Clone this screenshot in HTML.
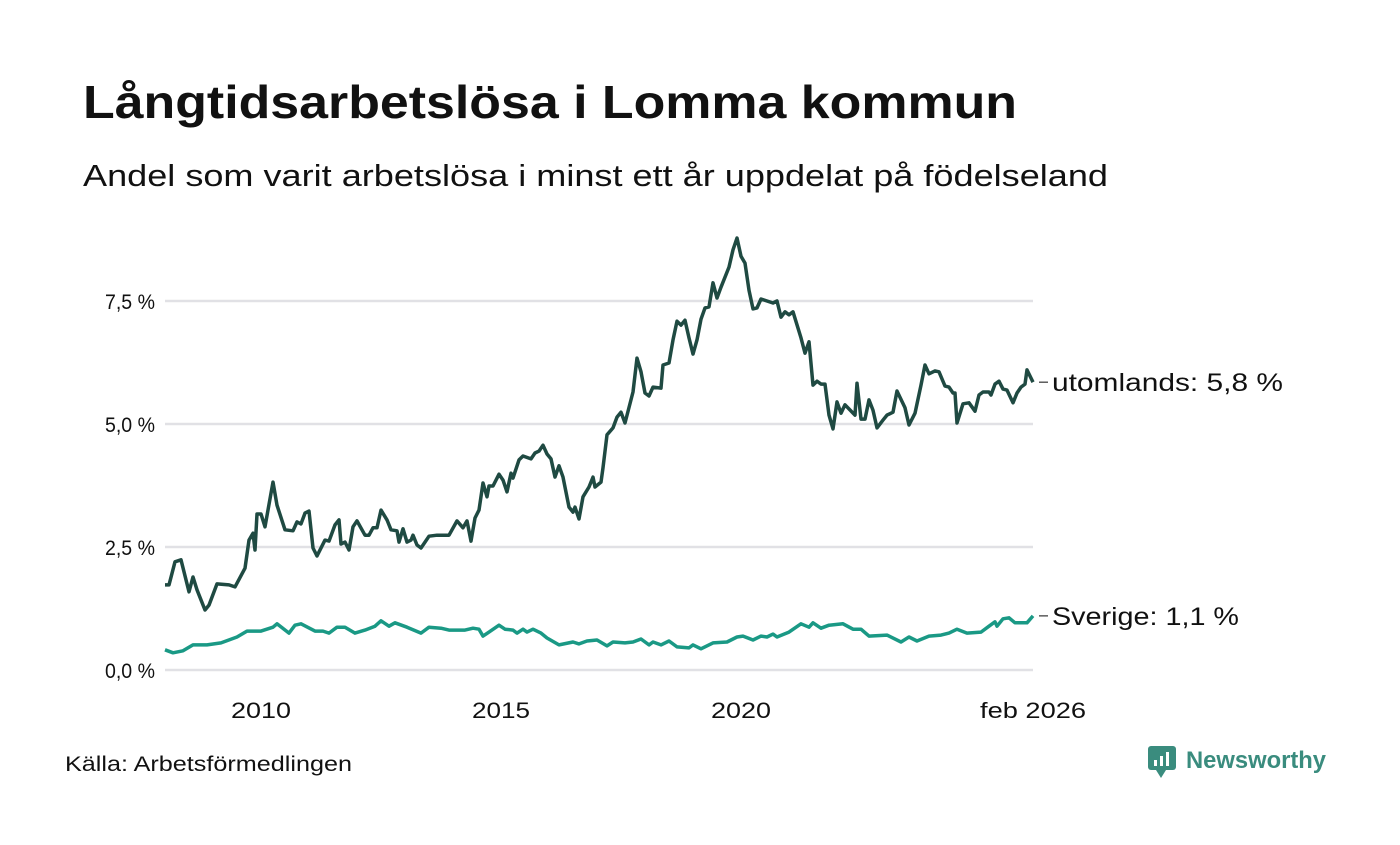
<!DOCTYPE html>
<html><head><meta charset="utf-8"><style>
body{margin:0;background:#fff;}
svg text{font-family:"Liberation Sans",sans-serif;fill:#111;}
</style></head><body>
<svg width="1400" height="840" viewBox="0 0 1400 840">
<text x="83" y="118" font-size="46" font-weight="bold" textLength="934" lengthAdjust="spacingAndGlyphs">Långtidsarbetslösa i Lomma kommun</text>
<text x="83" y="186" font-size="31" textLength="1025" lengthAdjust="spacingAndGlyphs">Andel som varit arbetslösa i minst ett år uppdelat på födelseland</text>
<g id="grid"></g>
<g id="yaxis"></g>
<g id="xaxis"></g>
<g id="series"></g>
<text x="65" y="771" font-size="21" textLength="287" lengthAdjust="spacingAndGlyphs">Källa: Arbetsförmedlingen</text>
<g>
<rect x="1148" y="746" width="28" height="24" rx="3" fill="#3a8c7e"/>
<polygon points="1156,770 1166,770 1161,778" fill="#3a8c7e"/>
<rect x="1154" y="760" width="3" height="6" fill="#fff"/><rect x="1160" y="756" width="3" height="10" fill="#fff"/><rect x="1166" y="752" width="3" height="14" fill="#fff"/>
<text x="1186" y="768" font-size="24" font-weight="bold" textLength="140" lengthAdjust="spacingAndGlyphs" style="fill:#3a8c7e">Newsworthy</text>
</g>
</svg>
<script>
const yTicks=[0,2.5,5,7.5];
const yTickLabels=["0,0 %","2,5 %","5,0 %","7,5 %"];
const xTicks=[24,84,144,217];
const xTickLabels=["2010","2015","2020","feb 2026"];
const xTickWidths=[60,58,60,106];
const foreignMonths=[0,1,2.5,4,6,7,8,10,11,13,16,17.5,20,21,22,22.5,23,24,25,27,28,30,32,33,34,35,36,37,38,40,41,42.5,43.5,44,45,46,47,48,50,51,52,53,54,55.5,56.5,58,58.5,59.5,60.5,61.5,62,63,64,65,66,68,71,73,74.5,75.5,76.5,77.5,78.5,79.5,80.5,81,82,83.5,84.5,85.5,86.5,87,88.5,89.5,91.5,92.5,93.5,94.5,95.5,96.5,97.5,98.5,99.5,101,102,102.5,103.5,104.5,106,107,107.5,109,109.5,110.5,112,113,114,115,117,118,119,120,121,122,124,124.5,126,127,128,129,130,131,132,133,134,135,136,137,138,139,141,142,143,144,145,146,147,148,149,150.5,152,153,154,155,156,157,159,160,161,162,163,164,165,166,167,168,169,170,172.5,173,174,175,176,177,178,179.5,180.5,182,183,185,186,187.5,189,190,191,192.5,193.5,195,196,197,197.5,198,199.5,201,202.5,203.5,204.5,206,206.5,207.5,208.5,209.5,210.5,212,213,214,215,215.5,217];
const foreignValues=[1.73,1.73,2.20,2.24,1.59,1.89,1.63,1.22,1.32,1.75,1.73,1.69,2.07,2.64,2.78,2.44,3.17,3.17,2.91,3.82,3.35,2.85,2.83,3.01,2.97,3.19,3.23,2.48,2.32,2.64,2.62,2.95,3.05,2.56,2.60,2.44,2.91,3.03,2.74,2.74,2.89,2.89,3.25,3.05,2.85,2.83,2.60,2.87,2.60,2.64,2.74,2.54,2.48,2.60,2.72,2.74,2.74,3.03,2.89,3.03,2.62,3.09,3.25,3.80,3.52,3.74,3.74,3.98,3.86,3.62,4.00,3.90,4.27,4.35,4.29,4.41,4.45,4.57,4.39,4.29,3.92,4.15,3.92,3.31,3.21,3.31,3.07,3.52,3.72,3.92,3.72,3.82,4.11,4.78,4.92,5.14,5.24,5.02,5.65,6.34,6.06,5.63,5.57,5.75,5.73,6.20,6.24,6.71,7.09,7.01,7.11,6.75,6.42,6.71,7.13,7.36,7.38,7.87,7.56,7.78,8.19,8.54,8.78,8.41,8.27,7.72,7.34,7.36,7.54,7.50,7.46,7.50,7.17,7.28,7.22,7.28,6.75,6.44,6.67,5.79,5.87,5.81,5.81,5.18,4.90,5.45,5.22,5.39,5.18,5.83,5.10,5.10,5.49,5.28,4.92,5.08,5.18,5.24,5.67,5.33,4.98,5.22,5.79,6.20,6.02,6.08,6.06,5.77,5.75,5.63,5.63,5.02,5.41,5.43,5.26,5.59,5.65,5.65,5.59,5.81,5.87,5.71,5.69,5.43,5.63,5.75,5.81,6.10,5.85];
const swedenMonths=[0,2,4.5,7,10.5,14,18,20.5,24,27,28,31,32.5,34,37.5,39.5,41,43,45,47.5,50,52.5,54,56,57.5,60.5,64,66,69,71,75,77,78.5,79.5,81,83.5,85,87,88,89.5,90.5,92,94,95.5,98.5,102,103.5,105.5,108,110.5,112,115,117,119,121,122,124,126,128,131,132,134,137,140.5,143,144.5,147,149,150.5,152,153,156,159,161,162,164,166,169.5,172,174,176,180.5,184,186,188,191,194,196,198,200.5,204,206,207.5,208,209.5,211,212.5,215.5,217];
const swedenValues=[0.41,0.35,0.39,0.51,0.51,0.55,0.67,0.79,0.79,0.87,0.94,0.75,0.91,0.94,0.79,0.79,0.75,0.87,0.87,0.75,0.81,0.89,1.00,0.89,0.96,0.87,0.75,0.87,0.85,0.81,0.81,0.85,0.83,0.69,0.77,0.91,0.83,0.81,0.75,0.83,0.77,0.83,0.75,0.65,0.51,0.57,0.53,0.59,0.61,0.49,0.57,0.55,0.57,0.63,0.51,0.57,0.51,0.59,0.47,0.45,0.51,0.43,0.55,0.57,0.67,0.69,0.61,0.69,0.67,0.73,0.67,0.77,0.94,0.87,0.96,0.85,0.91,0.94,0.83,0.83,0.69,0.71,0.57,0.67,0.59,0.69,0.71,0.75,0.83,0.75,0.77,0.89,0.98,0.89,1.04,1.06,0.96,0.96,1.10];
const seriesLabels=["utomlands: 5,8 %","Sverige: 1,1 %"];
const seriesLabelWidths=[231,187];

const X0=165,X1=1033,MMAX=217,Y0=670,PPU=49.2;
const xs=m=>X0+(X1-X0)*m/MMAX;
const ys=v=>Y0-v*PPU;
const NS="http://www.w3.org/2000/svg";
function mk(tag,attrs,parent){const e=document.createElementNS(NS,tag);for(const k in attrs)e.setAttribute(k,attrs[k]);parent.appendChild(e);return e;}
const grid=document.getElementById('grid'),ya=document.getElementById('yaxis'),xa=document.getElementById('xaxis'),sg=document.getElementById('series');
yTicks.forEach((t,i)=>{
  const l=mk('line',{x1:X0,x2:X1,y1:ys(t),y2:ys(t),stroke:'#e1e1e5','stroke-width':2.5},grid);
  
  
  const tx=mk('text',{x:155,y:ys(t)+8,'font-size':21,'text-anchor':'end',textLength:50,lengthAdjust:'spacingAndGlyphs'},ya);
  tx.textContent=yTickLabels[i];
  
  
});
xTicks.forEach((t,i)=>{
  const tx=mk('text',{x:xs(t)-xTickWidths[i]/2,y:718,'font-size':22,textLength:xTickWidths[i],lengthAdjust:'spacingAndGlyphs'},xa);
  tx.textContent=xTickLabels[i];
  
  
});
function line(ms,vs,color,name,label,w){
  const d=ms.map((m,i)=>(i?'L':'M')+xs(m).toFixed(1)+','+ys(vs[i]).toFixed(1)).join('');
  const p=mk('path',{d:d,fill:'none',stroke:color,'stroke-width':3.5,'stroke-linejoin':'round'},sg);
  
  
  const lv=vs[vs.length-1],ly=ys(lv);
  mk('line',{x1:X1+6,x2:X1+15,y1:ly,y2:ly,stroke:'#333','stroke-width':1.2},sg);
  const t=mk('text',{x:X1+19,y:ly+9,'font-size':25,textLength:w,lengthAdjust:'spacingAndGlyphs'},sg);
  t.textContent=label;
  
  
}
line(foreignMonths,foreignValues,'#1f4a42','line-utomlands',seriesLabels[0],seriesLabelWidths[0]);
line(swedenMonths,swedenValues,'#1a9985','line-sverige',seriesLabels[1],seriesLabelWidths[1]);
</script>
</body></html>
